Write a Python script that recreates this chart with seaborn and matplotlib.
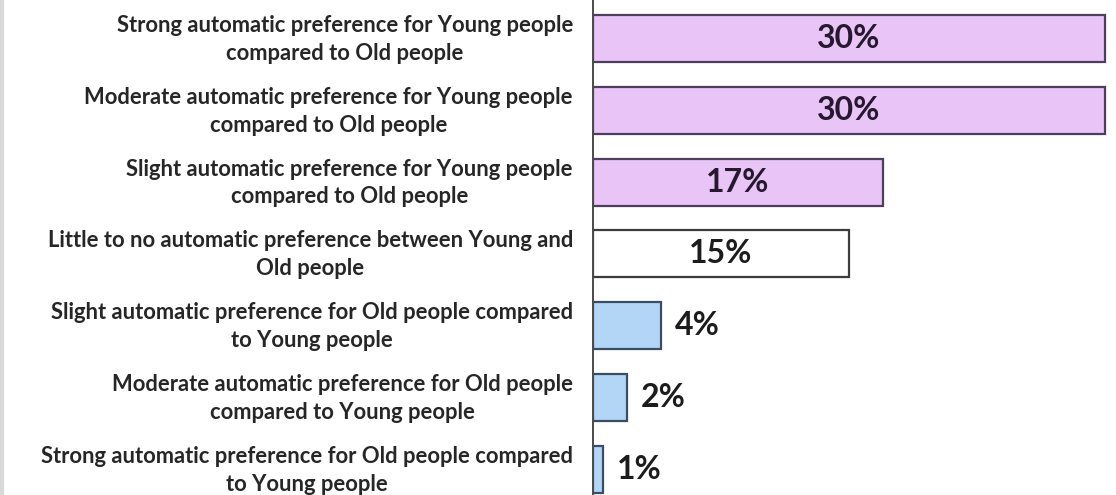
import matplotlib
matplotlib.use("Agg")
import matplotlib.pyplot as plt
import pandas as pd
import seaborn as sns
from matplotlib.transforms import ScaledTranslation

CATEGORIES = [
    "Strong automatic preference for Young people\ncompared to Old people",
    "Moderate automatic preference for Young people\ncompared to Old people",
    "Slight automatic preference for Young people\ncompared to Old people",
    "Little to no automatic preference between Young and\nOld people",
    "Slight automatic preference for Old people compared\nto Young people",
    "Moderate automatic preference for Old people\ncompared to Young people",
    "Strong automatic preference for Old people compared\nto Young people",
]
SHARES = [30, 30, 17, 15, 4, 2, 0.6]
FILLS = ["#e9c4f6", "#e9c4f6", "#e9c4f6", "#ffffff", "#b4d6f6", "#b4d6f6", "#b4d6f6"]
EDGES = ["#4e3d5c", "#4e3d5c", "#4e3d5c", "#3c3c3c", "#3b4d66", "#3b4d66", "#3b4d66"]
TEXT_COLORS = ["#25182f", "#25182f", "#25182f", "#1c1c1c", "#1c1c1c", "#1c1c1c", "#1c1c1c"]

sns.set_theme(style="white")
plt.rcParams["font.family"] = ["Lato", "DejaVu Sans"]

frame = pd.DataFrame({"category": CATEGORIES, "share": SHARES})

fig = plt.figure(figsize=(11.16, 4.95), dpi=100)
ax = fig.add_axes([593 / 1116, 0.0, (1110 - 593) / 1116, 1.0])
sns.barplot(
    data=frame,
    x="share",
    y="category",
    hue="category",
    palette=FILLS,
    saturation=1,
    legend=False,
    width=0.655,
    orient="h",
    ax=ax,
)
for patch, edge in zip(ax.patches, EDGES):
    patch.set_edgecolor(edge)
    patch.set_linewidth(1.6)

for i, (value, color) in enumerate(zip(SHARES, TEXT_COLORS)):
    label = f"{round(value)}%"
    if value >= 10:
        ax.text(value / 2, i, label, ha="center", va="center", fontsize=23,
                fontweight="bold", color=color)
    else:
        ax.annotate(label, (value, i), xytext=(10, 0), textcoords="offset points",
                    ha="left", va="center", fontsize=23, fontweight="bold", color=color)

# category labels: right aligned block, centred lines
shift = ScaledTranslation(-0.20, -0.01, fig.dpi_scale_trans)
for i, name in enumerate(CATEGORIES):
    ax.text(0, i, name, transform=ax.get_yaxis_transform() + shift,
            ha="right", va="center", multialignment="center", fontsize=15.8,
            fontweight="bold", color="#262626", linespacing=1.4)

ax.set_xlim(0, 30.3)
ax.set_ylim(6.358, -0.536)
ax.set_xlabel("")
ax.set_ylabel("")
ax.set_xticks([])
ax.set_yticks([])
for side in ["top", "right", "bottom"]:
    ax.spines[side].set_visible(False)
ax.spines["left"].set_color("#4a4a4a")
ax.spines["left"].set_linewidth(1.4)

fig.add_artist(plt.Line2D([0.002, 0.002], [0, 1], color="#d9d9d9", linewidth=3,
                          transform=fig.transFigure))
fig.savefig("out.png", dpi=100, facecolor="white")
